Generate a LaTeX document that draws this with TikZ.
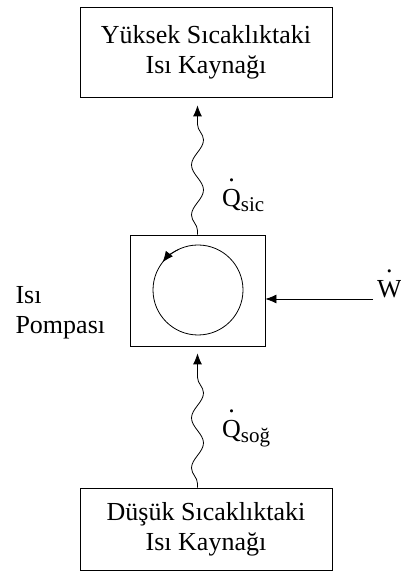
\documentclass[tikz,border=0pt]{standalone}
\usepackage{fontspec}
\setmainfont{Liberation Serif}
\usetikzlibrary{arrows.meta,positioning,calc,decorations.pathmorphing}

\newcommand{\noktali}[1]{\shortstack{.\\[5pt]#1}}
\newcommand{\altindis}[1]{\raisebox{-5pt}{\fontsize{21}{21}\selectfont #1}}

\tikzset{
    kutu/.style={draw, thick, minimum width=252pt, align=center, inner sep=0pt},
    ok/.style={-{Latex[length=11pt,width=9pt]}},
    dalga/.style={thick, ok, decorate,
        decoration={snake, amplitude=6pt, segment length=50pt, pre length=4pt, post length=12pt}},
    yazi/.style={font=\fontsize{26}{30}\selectfont}
}

\begin{document}
\begin{tikzpicture}[x=1pt, y=1pt, yazi]
    \useasboundingbox (0, 0) rectangle (401, 578);

    % Reservoirs
    \node[kutu, minimum height=90pt] (sicak) at (206, 526) {Yüksek Sıcaklıktaki\\Isı Kaynağı};
    \node[kutu, minimum height=82pt] (soguk) at (206, 49) {Düşük Sıcaklıktaki\\Isı Kaynağı};

    % Heat pump
    \node[draw, thick, minimum width=135pt, minimum height=111pt] (pompa) at (197.5, 287.5) {};
    \draw[thick] (198, 288) circle (45);
    \draw[thick, ok] (198, 288) ++(115:45) arc[start angle=115, end angle=142, radius=45];
    \node[anchor=north west, align=left] (etiket) at (12, 295) {Isı\\Pompası};

    % Heat flows
    \coordinate (qust) at ($(pompa.north |- sicak.south)+(0,-8)$);
    \coordinate (qalt) at ($(pompa.south)+(0,-7)$);
    \draw[dalga] (pompa.north) -- (qust);
    \draw[dalga] (pompa.south |- soguk.north) -- (qalt);
    \node[anchor=base west, inner sep=0pt] (qsic) at (222, 371) {\noktali{Q}\altindis{sic}};
    \node[anchor=base west, inner sep=0pt] (qsog) at (222, 140) {\noktali{Q}\altindis{soğ}};

    % Work input
    \coordinate (w) at (373, 279);
    \draw[thick, ok] (w) -- (pompa.east |- w);
    \node[anchor=base west, inner sep=0pt] (is) at (377, 280) {\noktali{W}};
\end{tikzpicture}
\end{document}
